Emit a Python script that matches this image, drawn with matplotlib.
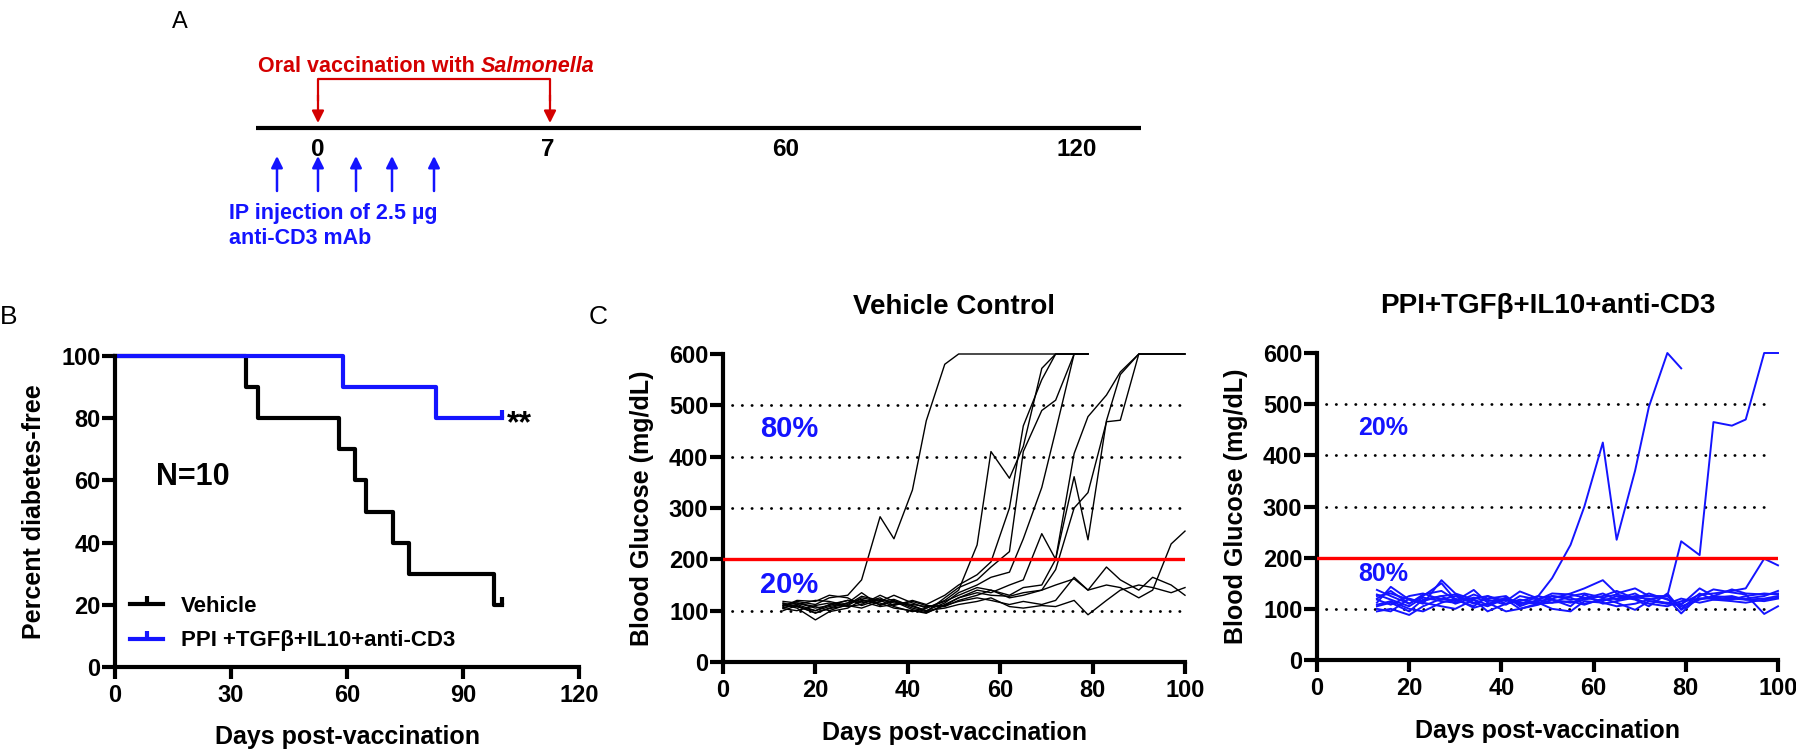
import matplotlib
matplotlib.use("Agg")
import matplotlib.pyplot as plt
from matplotlib.lines import Line2D

plt.rcParams['font.family'] = ['Liberation Sans', 'DejaVu Sans']
plt.rcParams['font.weight'] = 'bold'
plt.rcParams['axes.labelweight'] = 'bold'

W, H = 1796, 752
BLUE = '#1414ff'
RED = '#ff0000'
DARKRED = '#d40000'

# ---- data ----
# panel A timeline (days shown on the schematic)
timeline_labels = ['0', '7', '60', '120']

# panel B: Kaplan-Meier, percent diabetes-free
km_days_vehicle = [0, 34, 37, 58, 62, 65, 72, 76, 98, 100]
km_surv_vehicle = [100, 90, 80, 70, 60, 50, 40, 30, 20, 20]
km_days_treat = [0, 59, 83, 100]
km_surv_treat = [100, 90, 80, 80]

# panel C: blood glucose, measured on these days
days = [13, 16, 20, 23, 27, 30, 34, 37, 41, 44, 48, 51, 55, 58, 62, 65,
        69, 72, 76, 79, 83, 86, 90, 93, 97, 100]

vehicle = [
    [110, 118, 112, 125, 130, 160, 283, 240, 335, 470, 580, 600, 600, 600, 600, 600, 600, 600, 600, 600],
    [105, 112, 120, 118, 110, 125, 118, 130, 115, 105, 120, 140, 228, 410, 358, 420, 572, 600, 600, 600],
    [115, 108, 100, 112, 120, 115, 125, 110, 120, 112, 130, 150, 170, 195, 300, 460, 550, 600, 600, 600],
    [100, 110, 95, 105, 115, 135, 110, 120, 105, 98, 125, 145, 160, 185, 215, 410, 490, 510, 600, 600],
    [108, 120, 118, 130, 125, 110, 122, 115, 110, 100, 115, 135, 150, 165, 175, 240, 340, 450, 600, 600],
    [112, 105, 82, 98, 105, 120, 115, 105, 100, 95, 112, 125, 140, 135, 150, 160, 250, 200, 361, 238, 470, 560, 600, 600, 600, 600],
    [118, 115, 108, 100, 112, 128, 120, 108, 98, 105, 118, 130, 145, 140, 130, 145, 150, 200, 406, 478, 520, 565, 600, 600, 600, 600],
    [104, 100, 110, 115, 108, 112, 130, 118, 112, 108, 110, 125, 135, 130, 128, 135, 140, 180, 300, 330, 468, 471, 600, 600, 600, 600],
    [110, 115, 105, 110, 120, 118, 108, 112, 118, 110, 108, 120, 130, 140, 125, 130, 140, 150, 162, 140, 150, 145, 125, 140, 230, 255],
    [106, 112, 100, 108, 115, 122, 112, 118, 102, 96, 110, 118, 125, 120, 112, 118, 112, 120, 165, 140, 185, 160, 140, 165, 150, 130],
    [114, 108, 96, 104, 110, 105, 118, 122, 108, 100, 105, 112, 118, 125, 108, 105, 110, 108, 120, 92, 120, 140, 150, 145, 135, 145],
]

treated = [
    [120, 135, 110, 125, 150, 118, 120, 125, 110, 115, 125, 160, 225, 300, 425, 235, 370, 495, 600, 570],
    [105, 112, 95, 118, 125, 128, 112, 105, 120, 112, 110, 125, 118, 120, 130, 118, 125, 125, 125, 232, 205, 465, 458, 470, 600, 600],
    [128, 118, 105, 122, 115, 112, 128, 118, 108, 125, 118, 112, 125, 130, 122, 128, 120, 130, 118, 110, 128, 130, 135, 140, 198, 185],
    [112, 143, 118, 110, 156, 130, 118, 108, 122, 110, 115, 120, 130, 140, 156, 130, 140, 125, 120, 91, 125, 138, 132, 128, 90, 105],
    [95, 100, 88, 105, 120, 115, 137, 112, 95, 100, 108, 118, 112, 118, 125, 135, 120, 110, 105, 115, 120, 120, 118, 125, 130, 128],
    [137, 125, 110, 128, 135, 118, 105, 125, 115, 134, 120, 125, 122, 110, 118, 120, 130, 115, 112, 105, 118, 125, 122, 120, 125, 135],
    [100, 95, 120, 112, 105, 100, 118, 95, 110, 118, 112, 100, 95, 115, 112, 105, 110, 118, 125, 100, 130, 118, 120, 118, 115, 120],
    [118, 108, 125, 130, 118, 125, 110, 120, 125, 105, 118, 130, 128, 122, 115, 125, 118, 105, 130, 98, 120, 122, 125, 118, 120, 125],
    [108, 115, 100, 95, 112, 120, 102, 110, 118, 100, 110, 112, 115, 108, 120, 112, 98, 115, 110, 120, 112, 118, 115, 112, 118, 122],
    [125, 130, 118, 115, 125, 110, 122, 115, 120, 108, 125, 118, 105, 128, 110, 115, 122, 120, 110, 108, 140, 125, 138, 130, 128, 130],
]

gridlines = [100, 200, 300, 400, 500]
threshold = 200


def box(x0, y0, x1, y1):
    # pixel box (left, top, right, bottom) -> figure fraction
    return [x0 / W, 1 - y1 / H, (x1 - x0) / W, (y1 - y0) / H]


def style(ax):
    ax.set_facecolor('none')
    for s in ['top', 'right']:
        ax.spines[s].set_visible(False)
    for s in ['left', 'bottom']:
        ax.spines[s].set_linewidth(3)
        ax.spines[s].set_capstyle('projecting')
    ax.tick_params(axis='both', width=3, labelsize=17)
    ax.tick_params(axis='x', length=8.5, pad=4)
    ax.tick_params(axis='y', length=9.5, pad=1)


fig = plt.figure(figsize=(W / 100, H / 100), dpi=100)

# ---- panel A: schematic on a pixel overlay ----
ax0 = fig.add_axes([0, 0, 1, 1])
ax0.set_xlim(0, W)
ax0.set_ylim(H, 0)
ax0.axis('off')

ax0.text(180, 22, 'A', fontsize=17, weight='normal', ha='center', va='center')
ax0.plot([256, 1141], [128, 128], color='black', lw=3, solid_capstyle='butt')
for lab, x in zip(timeline_labels, [318, 548, 786, 1077]):
    ax0.text(x, 150, lab, fontsize=17.5, ha='center', va='center')

# red bracket with arrows
ax0.plot([318, 318, 550, 550], [100, 79, 79, 100], color=DARKRED, lw=1.6)
for x in [318, 550]:
    ax0.annotate('', xy=(x, 123), xytext=(x, 95),
                 arrowprops=dict(arrowstyle='-|>', color=DARKRED, lw=1.6,
                                 mutation_scale=18, shrinkA=0, shrinkB=0))
t1 = ax0.text(258, 66, 'Oral vaccination with', color=DARKRED, fontsize=15.5,
              ha='left', va='center')
fig.canvas.draw()
bb = t1.get_window_extent()
ax0.text(bb.x1 + 6, 66, 'Salmonella', color=DARKRED, fontsize=15.5,
         style='italic', ha='left', va='center')

# blue injection arrows
for x in [277, 318, 356, 392, 434]:
    ax0.annotate('', xy=(x, 156), xytext=(x, 191),
                 arrowprops=dict(arrowstyle='-|>', color=BLUE, lw=1.8,
                                 mutation_scale=17, shrinkA=0, shrinkB=0))
ax0.text(229, 213, 'IP injection of 2.5 µg', color=BLUE, fontsize=15.5,
         ha='left', va='center')
ax0.text(229, 238, 'anti-CD3 mAb', color=BLUE, fontsize=15.5,
         ha='left', va='center')

ax0.text(9, 317, 'B', fontsize=19, weight='normal', ha='center', va='center')
ax0.text(598, 317, 'C', fontsize=19, weight='normal', ha='center', va='center')

# ---- panel B: survival ----
axB = fig.add_axes(box(115, 356, 579, 667))
style(axB)
axB.step(km_days_vehicle, km_surv_vehicle, where='post', color='black', lw=3,
         marker=2, markevery=[len(km_days_vehicle) - 1], ms=6, mew=3, clip_on=False)
axB.step(km_days_treat, km_surv_treat, where='post', color=BLUE, lw=3,
         marker=2, markevery=[len(km_days_treat) - 1], ms=6, mew=3, clip_on=False)
axB.set_xlim(0, 120)
axB.set_ylim(0, 100)
axB.set_xticks([0, 30, 60, 90, 120])
axB.set_yticks([0, 20, 40, 60, 80, 100])
axB.set_xlabel('Days post-vaccination', fontsize=18)
axB.set_ylabel('Percent diabetes-free', fontsize=18)
axB.xaxis.set_label_coords(0.5, -0.225)
axB.xaxis.label.set_verticalalignment('center')
axB.yaxis.set_label_coords(-0.175, 0.5)
axB.yaxis.label.set_verticalalignment('center')
axB.text(20, 61, 'N=10', fontsize=22, ha='center', va='center')
axB.text(101.3, 75.5, '**', fontsize=23, ha='left', va='baseline')
handles = [Line2D([], [], color='black', lw=3, marker=2, ms=6, mew=3),
           Line2D([], [], color=BLUE, lw=3, marker=2, ms=6, mew=3)]
axB.legend(handles, ['Vehicle', 'PPI +TGFβ+IL10+anti-CD3'], loc='lower left',
           bbox_to_anchor=(0.032, 0.05), frameon=False, fontsize=16,
           handlelength=1.5, handletextpad=0.8, labelspacing=0.6,
           borderaxespad=0, borderpad=0)


# ---- panel C: glucose traces ----
def glucose(ax, traces, color, lw, title, top_lab, bot_lab, bot_y, lab_size):
    style(ax)
    for y in gridlines:
        ax.hlines(y, 2, 99, color='black', lw=2.0, linestyles=[(0, (0.1, 3.4))],
                  capstyle='round', zorder=1)
    for v in traces:
        ax.plot(days[:len(v)], v, color=color, lw=lw, zorder=3, clip_on=False)
    ax.axhline(threshold, color=RED, lw=2.4, zorder=5)
    ax.set_xlim(0, 100)
    ax.set_ylim(0, 600)
    ax.set_xticks([0, 20, 40, 60, 80, 100])
    ax.set_yticks([0, 100, 200, 300, 400, 500, 600])
    ax.set_xlabel('Days post-vaccination', fontsize=18)
    ax.set_ylabel('Blood Glucose (mg/dL)', fontsize=18)
    ax.xaxis.set_label_coords(0.5, -0.23)
    ax.xaxis.label.set_verticalalignment('center')
    ax.yaxis.set_label_coords(-0.175, 0.5)
    ax.yaxis.label.set_verticalalignment('center')
    ax.text(0.5, 1.153, title, transform=ax.transAxes, fontsize=20,
            ha='center', va='center')
    ax.text(14.3, 454, top_lab, color=BLUE, fontsize=lab_size, ha='center', va='center')
    ax.text(14.3, bot_y, bot_lab, color=BLUE, fontsize=lab_size, ha='center', va='center')


axC1 = fig.add_axes(box(723, 354, 1185, 662))
glucose(axC1, vehicle, 'black', 1.0, 'Vehicle Control', '80%', '20%', 150, 21)
axC2 = fig.add_axes(box(1317, 353, 1778, 660))
glucose(axC2, treated, BLUE, 1.4, 'PPI+TGFβ+IL10+anti-CD3', '20%', '80%', 168, 18)

fig.savefig('out.png', dpi=100)
